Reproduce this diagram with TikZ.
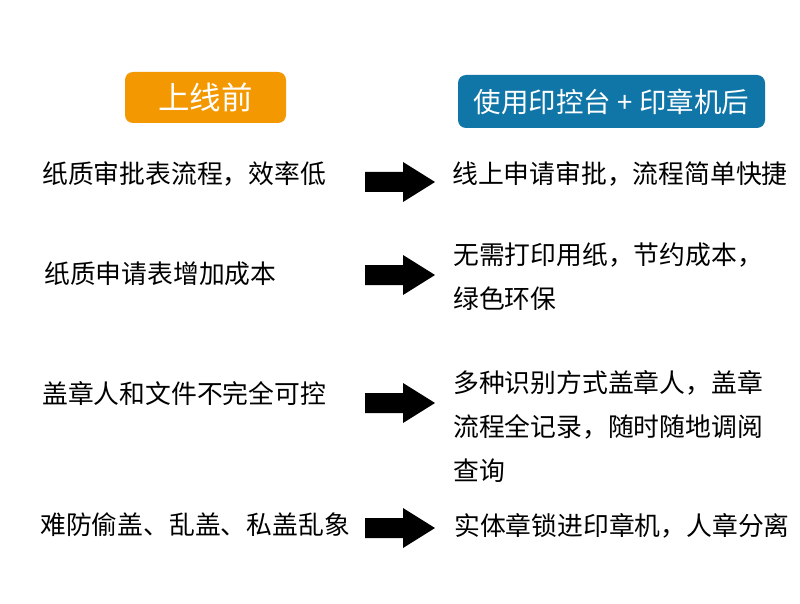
\documentclass[tikz,border=0pt]{standalone}
\usepackage{fontspec}
\setmainfont{Noto Sans CJK SC}
\usetikzlibrary{positioning}
\definecolor{hdorange}{RGB}{243,152,0}
\definecolor{hdblue}{RGB}{16,118,168}
\tikzset{
  header/.style={rounded corners=8pt,text=white,inner sep=0pt,font=\fontsize{31.5}{31.5}\selectfont},
  item/.style={anchor=west,inner sep=0pt,align=left,font=\fontsize{25.8}{44}\selectfont},
  blockarrow/.style={fill=black}
}

\begin{document}
\begin{tikzpicture}[x=1pt,y=-1pt]
  \useasboundingbox[fill=white] (0,0) rectangle (800,604);
  % column headers
  \node[header,fill=hdorange,minimum width=161pt,minimum height=51pt] (before) at (205.5,97.5) {上线前};
  \node[header,fill=hdblue,minimum width=307pt,minimum height=53pt,font=\fontsize{27.5}{27.5}\selectfont] (after) at (611.5,101.5) {使用印控台 + 印章机后};
  % left column
  \node[item] (b1) at (42,174) {纸质审批表流程，效率低};
  \node[item] (b2) at (44,274) {纸质申请表增加成本};
  \node[item] (b3) at (42,394) {盖章人和文件不完全可控};
  \node[item] (b4) at (40,525) {难防偷盖、乱盖、私盖乱象};
  % right column
  \node[item] (a1) at (452,174) {线上申请审批，流程简单快捷};
  \node[item] (a2) at (453,276.5) {无需打印用纸，节约成本，\\绿色环保};
  \node[item] (a3) at (453,426) {多种识别方式盖章人，盖章\\流程全记录，随时随地调阅\\查询};
  \node[item] (a4) at (454,526) {实体章锁进印章机，人章分离};
  % arrows
  \foreach \y in {182,275,403,528}
    \fill[blockarrow] (365,\y-10) -- (403,\y-10) -- (403,\y-20) -- (435,\y)
      -- (403,\y+20) -- (403,\y+10) -- (365,\y+10) -- cycle;
\end{tikzpicture}
\end{document}
